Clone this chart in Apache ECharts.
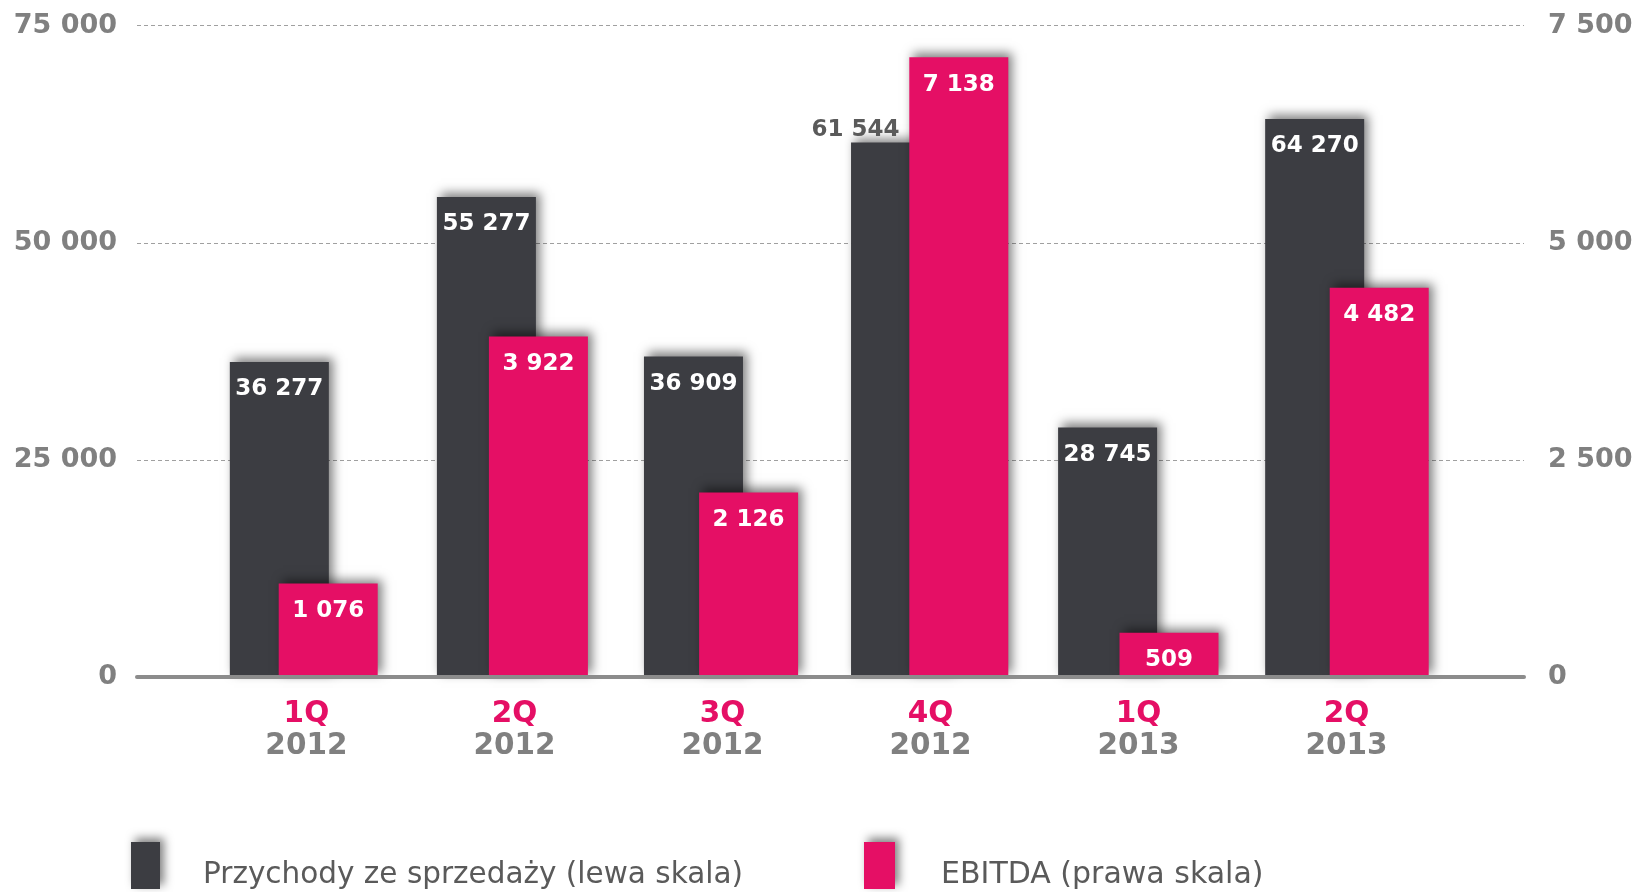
<!DOCTYPE html>
<html>
<head>
<meta charset="utf-8">
<script src="https://cdn.jsdelivr.net/npm/echarts@6/dist/echarts.min.js"></script>
<style>
html,body{margin:0;padding:0;background:#fff;}
#chart{width:1644px;height:892px;}
</style>
</head>
<body>
<div id="chart"></div>
<script>
// ---- data ----
const quarters = ['1Q', '2Q', '3Q', '4Q', '1Q', '2Q'];
const years = ['2012', '2012', '2012', '2012', '2013', '2013'];
const revenue = [36277, 55277, 36909, 61544, 28745, 64270];   // Przychody (lewa skala)
const ebitda = [1076, 3922, 2126, 7138, 509, 4482];           // EBITDA (prawa skala)
const leftTicks = [0, 25000, 50000, 75000];
const rightTicks = [0, 2500, 5000, 7500];
const nameRevenue = 'Przychody ze sprzedaży (lewa skala)';
const nameEbitda = 'EBITDA (prawa skala)';

const categories = quarters.map((q, i) => q + ' ' + years[i]);

const DARK = '#3c3d42';
const PINK = '#e50f65';
const GRAY = '#808080';
const FONT = 'DejaVu Sans';
const fmt = v => String(v).replace(/\B(?=(\d{3})+(?!\d))/g, ' ');

const TOP = 25.7, BOTTOM = 215;
const shadow = {shadowBlur: 10, shadowOffsetX: 4, shadowOffsetY: -4, shadowColor: 'rgba(0,0,0,0.5)'};

const chart = echarts.init(document.getElementById('chart'), null, {renderer: 'canvas'});

const barLabel = {
  show: true, position: 'insideTop', distance: 16,
  color: '#ffffff', fontFamily: FONT, fontWeight: 'bold', fontSize: 23,
  formatter: p => fmt(p.value)
};

function legendText(size, padLeft) {
  return {
    color: '#5a5a5a', fontFamily: FONT, fontSize: size,
    rich: {t: {color: '#5a5a5a', fontFamily: FONT, fontSize: size, padding: [20, 0, 0, padLeft]}}
  };
}

const option = {
  backgroundColor: '#ffffff',
  animation: false,
  grid: [
    {left: 137, right: 120, top: TOP, bottom: BOTTOM},          // axes frame
    {left: 175.8, width: 1242.4, top: TOP, bottom: BOTTOM},     // revenue bars
    {left: 223.1, width: 1261.2, top: TOP, bottom: BOTTOM},     // EBITDA bars
    {left: 202.4, width: 1248.2, top: TOP, bottom: BOTTOM}      // category labels
  ],
  xAxis: [
    {gridIndex: 0, type: 'value', min: 0, max: 1, z: 10,
     axisLine: {show: true, lineStyle: {color: '#8c8c8c', width: 4}},
     axisTick: {show: false}, axisLabel: {show: false}, splitLine: {show: false}},
    {gridIndex: 1, type: 'category', data: categories, show: false},
    {gridIndex: 2, type: 'category', data: categories, show: false},
    {gridIndex: 3, type: 'category', data: categories,
     axisLine: {show: false}, axisTick: {show: false}, splitLine: {show: false},
     axisLabel: {
       margin: 21, interval: 0,
       formatter: (v, i) => '{q|' + quarters[i] + '}\n{y|' + years[i] + '}',
       rich: {
         q: {color: PINK, fontFamily: FONT, fontWeight: 'bold', fontSize: 29.5, lineHeight: 32.5},
         y: {color: GRAY, fontFamily: FONT, fontWeight: 'bold', fontSize: 29.5, lineHeight: 32.5}
       }
     }}
  ],
  yAxis: [
    {gridIndex: 0, type: 'value', position: 'left', min: leftTicks[0], max: leftTicks[leftTicks.length - 1],
     interval: leftTicks[1] - leftTicks[0],
     axisLine: {show: false}, axisTick: {show: false},
     axisLabel: {margin: 20, color: GRAY, fontFamily: FONT, fontWeight: 'bold', fontSize: 27, formatter: v => fmt(v)},
     splitLine: {show: true, lineStyle: {color: '#a0a0a0', width: 1, type: [4, 3]}}},
    {gridIndex: 0, type: 'value', position: 'right', min: rightTicks[0], max: rightTicks[rightTicks.length - 1],
     interval: rightTicks[1] - rightTicks[0],
     axisLine: {show: false}, axisTick: {show: false}, splitLine: {show: false},
     axisLabel: {margin: 24, color: GRAY, fontFamily: FONT, fontWeight: 'bold', fontSize: 27, formatter: v => fmt(v)}},
    {gridIndex: 1, type: 'value', min: leftTicks[0], max: leftTicks[leftTicks.length - 1], show: false},
    {gridIndex: 2, type: 'value', min: rightTicks[0], max: rightTicks[rightTicks.length - 1], show: false},
    {gridIndex: 3, type: 'value', min: 0, max: 1, show: false}
  ],
  legend: [
    {data: [nameRevenue], left: 131, top: 842, padding: 0, icon: 'rect',
     itemWidth: 29, itemHeight: 47,
     itemStyle: Object.assign({color: DARK}, shadow),
     formatter: n => '{t|' + n + '}',
     textStyle: legendText(29.5, 38)},
    {data: [nameEbitda], left: 864, top: 842, padding: 0, icon: 'rect',
     itemWidth: 31, itemHeight: 47,
     itemStyle: Object.assign({color: PINK}, shadow),
     formatter: n => '{t|' + n + '}',
     textStyle: legendText(30, 41)}
  ],
  series: [
    {name: nameRevenue, type: 'bar', xAxisIndex: 1, yAxisIndex: 2, barWidth: 99, z: 2,
     itemStyle: Object.assign({color: DARK}, shadow),
     label: barLabel,
     data: revenue.map((v, i) => i === 3 ? {
       value: v,
       label: {position: 'top', distance: 1, offset: [-45, 0], color: '#5a5a5a'}
     } : v)},
    {name: nameEbitda, type: 'bar', xAxisIndex: 2, yAxisIndex: 3, barWidth: 99, z: 3,
     itemStyle: Object.assign({color: PINK}, shadow),
     label: barLabel,
     data: ebitda}
  ]
};
chart.setOption(option);
</script>
</body>
</html>
